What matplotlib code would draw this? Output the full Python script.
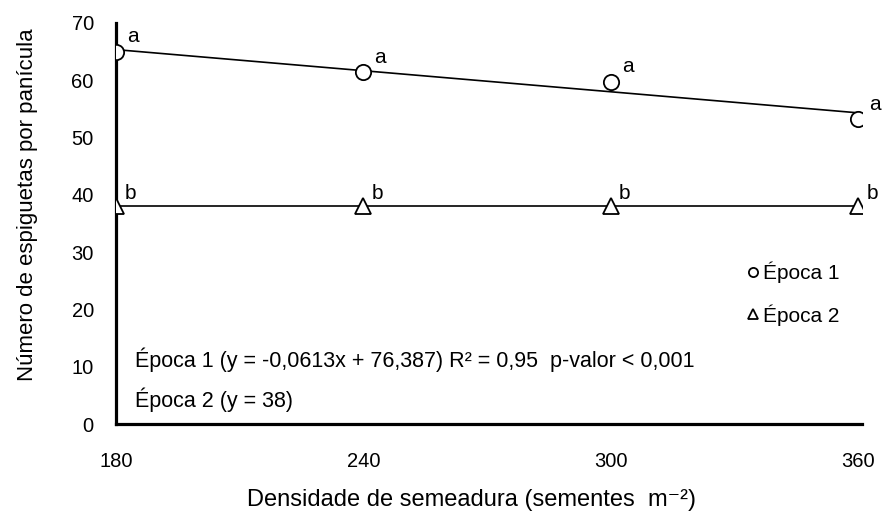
import numpy as np
import matplotlib
matplotlib.use("Agg")
import matplotlib.pyplot as plt

plt.rcParams['font.family'] = ['Liberation Sans', 'DejaVu Sans']

# Seeding density (seeds m-2) and spikelets per panicle
densidade = [180, 240, 300, 360]
epoca1 = [64.9, 61.4, 59.7, 53.2]
epoca2 = [38.0, 38.0, 38.0, 38.0]
letras1 = ["a", "a", "a", "a"]
letras2 = ["b", "b", "b", "b"]

# Fitted models
coef_a, coef_b = -0.0613, 76.387
media2 = 38

fig = plt.figure(figsize=(8.84, 5.19), dpi=100)
ax = fig.add_axes([0.1312, 0.183, 0.844, 0.7727])

x_fit = np.array([densidade[0], densidade[-1]])
ax.plot(x_fit, coef_a * x_fit + coef_b, color='black', lw=1.2, zorder=2)
ax.plot(x_fit, [media2, media2], color='black', lw=1.2, zorder=2)

ax.plot(densidade, epoca1, linestyle='none', marker='o', ms=11,
        mfc='white', mec='black', mew=1.3, zorder=3, label='Época 1')
ax.plot(densidade, epoca2, linestyle='none', marker='^', ms=11,
        mfc='white', mec='black', mew=1.3, zorder=3, label='Época 2')

# significance letters
for x, y, l in zip(densidade, epoca1, letras1):
    ax.annotate(l, (x, y), xytext=(8, 7), textcoords='offset points',
                fontsize=15, ha='left', va='baseline')
for x, y, l in zip(densidade, epoca2, letras2):
    ax.annotate(l, (x, y), xytext=(6, 5), textcoords='offset points',
                fontsize=15, ha='left', va='baseline')

ax.set_xlim(180, 361)
ax.set_ylim(0, 70)
ax.set_xticks(densidade)
ax.set_yticks(range(0, 71, 10))
ax.tick_params(axis='x', length=0, pad=20, labelsize=14.5)
ax.tick_params(axis='y', length=0, pad=16, labelsize=14.5)

for s in ['top', 'right']:
    ax.spines[s].set_visible(False)
for s in ['left', 'bottom']:
    ax.spines[s].set_linewidth(2.3)

ax.set_xlabel('Densidade de semeadura (sementes  m⁻²)', fontsize=17)
ax.xaxis.set_label_coords(0.477, -0.162)
ax.set_ylabel('Número de espiguetas por panícula', fontsize=16)
ax.yaxis.set_label_coords(-0.105, 0.546)

ax.text(0.0255, 0.142, 'Época 1 (y = -0,0613x + 76,387) R² = 0,95  p-valor < 0,001',
        transform=ax.transAxes, fontsize=15.5, va='baseline')
ax.text(0.0255, 0.042, 'Época 2 (y = 38)', transform=ax.transAxes,
        fontsize=15.5, va='baseline')

leg = ax.legend(loc='center left', bbox_to_anchor=(0.845, 0.325), frameon=False,
                fontsize=15, handlelength=0.6, handletextpad=0.2,
                labelspacing=1.0, markerscale=0.6, borderaxespad=0,
                borderpad=0)

fig.savefig('out.png', dpi=100)
